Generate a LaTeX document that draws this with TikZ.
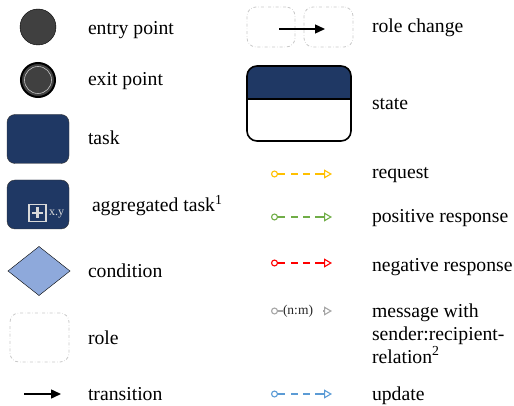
\documentclass[tikz,border=0pt]{standalone}
\usepackage{fontspec}
\setmainfont{Liberation Serif}
\usetikzlibrary{arrows.meta, shapes.geometric}

\definecolor{navy}{HTML}{1F3864}
\definecolor{darkfill}{HTML}{404040}
\definecolor{condfill}{HTML}{8EA9DB}
\definecolor{rolegrey}{HTML}{C8C8C8}
\definecolor{reqcol}{HTML}{FFC000}
\definecolor{poscol}{HTML}{70AD47}
\definecolor{negcol}{HTML}{FF0000}
\definecolor{msgcol}{HTML}{A6A6A6}
\definecolor{updcol}{HTML}{5B9BD5}

\begin{document}
\begin{tikzpicture}[
    x=1pt, y=-1pt,
    every node/.style={inner sep=0pt, outer sep=0pt},
    label/.style={
        anchor=base west,
        font=\fontsize{19.7}{23}\selectfont,
        align=left
    },
    point/.style={
        circle,
        draw=black,
        fill=darkfill,
        minimum size=36pt
    },
    taskbox/.style={
        rectangle,
        rounded corners=8pt,
        draw=black!80,
        fill=navy,
        minimum width=62pt,
        minimum height=49pt
    },
    rolebox/.style={
        rectangle,
        rounded corners=9pt,
        draw=rolegrey,
        dash dot,
        line width=0.8pt,
        minimum height=40pt
    },
    msg/.style={
        line width=1.1pt,
        dash pattern=on 8pt off 6pt on 7pt off 5pt on 7pt off 5pt on 8pt off 0pt,
        {Circle[open, length=7pt, width=7pt, sep=-1pt]}-{Triangle[open, length=8pt, width=9pt]}
    }
    ]
    % left column
    \node[point] (entry) at (38,27) {};
    \node[label] (entrytxt) at (88,35) {entry point};

    \node[point, draw=black, line width=2pt, minimum size=34pt] (exit) at (38,80) {};
    \draw[black!25, line width=0.6pt] (exit.center) circle (13.5pt);
    \node[label] (exittxt) at (88,86) {exit point};

    \node[taskbox] (task) at (38,139) {};
    \node[label] (tasktxt) at (88,145) {task};

    \node[taskbox] (aggr) at (38,204.5) {};
    \node[draw=black!15, line width=1.3pt, minimum size=17pt] (aggricon) at (37.5,213) {};
    \draw[black!15, line width=2.6pt] (aggricon.center) ++(-5.5,0) -- ++(11,0);
    \draw[black!15, line width=2.6pt] (aggricon.center) ++(0,-5.5) -- ++(0,11);
    \node[anchor=west, text=black!15, font=\fontsize{12}{14}\selectfont] (aggrnum) at (49,214.5) {x.y};
    \node[label] (aggrtxt) at (92,212) {aggregated task\textsuperscript{1}};

    \node[diamond, draw=black, fill=condfill, minimum width=62pt, minimum height=49pt] (cond) at (39,271) {};
    \node[label] (condtxt) at (88,277) {condition};

    \node[rolebox, minimum width=59pt, minimum height=49pt] (role) at (39.5,337.5) {};
    \node[label] (roletxt) at (88,344) {role};

    \coordinate (transA) at (24,394);
    \coordinate (transB) at (61,394);
    \draw[line width=1.5pt, -{Triangle[length=10pt, width=9pt]}] (transA) -- (transB);
    \node[label] (transtxt) at (88,400) {transition};

    % right column
    \node[rolebox, minimum width=48pt] (roleA) at (271,27) {};
    \node[rolebox, minimum width=49pt] (roleB) at (328.5,27) {};
    \coordinate (chgA) at (279,29);
    \coordinate (chgB) at (325,29);
    \draw[line width=1.3pt, -{Triangle[length=10pt, width=9pt]}] (chgA) -- (chgB);
    \node[label] (chgtxt) at (372,33) {role change};

    \node[rectangle, rounded corners=10pt, draw=black, line width=1.6pt, fill=white,
          minimum width=104pt, minimum height=75pt,
          path picture={
              \fill[navy, sharp corners] (path picture bounding box.north west) rectangle ([yshift=-33pt]path picture bounding box.north east);
              \draw[black, sharp corners, line width=1.6pt] ([yshift=-33pt]path picture bounding box.north west) -- ([yshift=-33pt]path picture bounding box.north east);
          }] (state) at (299,103.5) {};
    \node[label] (statetxt) at (372,110) {state};

    \coordinate (reqA) at (272,174);
    \coordinate (reqB) at (332,174);
    \draw[msg, reqcol] (reqA) -- (reqB);
    \node[label] (reqtxt) at (372,179) {request};

    \coordinate (posA) at (272,217);
    \coordinate (posB) at (332,217);
    \draw[msg, poscol] (posA) -- (posB);
    \node[label] (postxt) at (372,223) {positive response};

    \coordinate (negA) at (272,263);
    \coordinate (negB) at (332,263);
    \draw[msg, negcol] (negA) -- (negB);
    \node[label] (negtxt) at (372,271) {negative response};

    \coordinate (mA) at (272,311);
    \node[anchor=west, font=\fontsize{13.5}{15}\selectfont, text=black!85] (mrel) at (283,311) {(n:m)};
    \coordinate (mB) at (323,311);
    \coordinate (mC) at (332,311);
    \draw[msgcol, line width=1.1pt, {Circle[open, length=7pt, width=7pt, sep=-1pt]}-] (mA) -- (mrel.west);
    \draw[msgcol, line width=1.1pt, -{Triangle[open, length=8pt, width=9pt]}] (mB) -- (mC);
    \node[label] (msgtxt) at (372,363) {message with\\sender:recipient-\\relation\textsuperscript{2}};

    \coordinate (updA) at (272,394);
    \coordinate (updB) at (332,394);
    \draw[msg, updcol] (updA) -- (updB);
    \node[label] (updtxt) at (372,400) {update};

    \useasboundingbox (0,0) rectangle (514,406);
\end{tikzpicture}
\end{document}
